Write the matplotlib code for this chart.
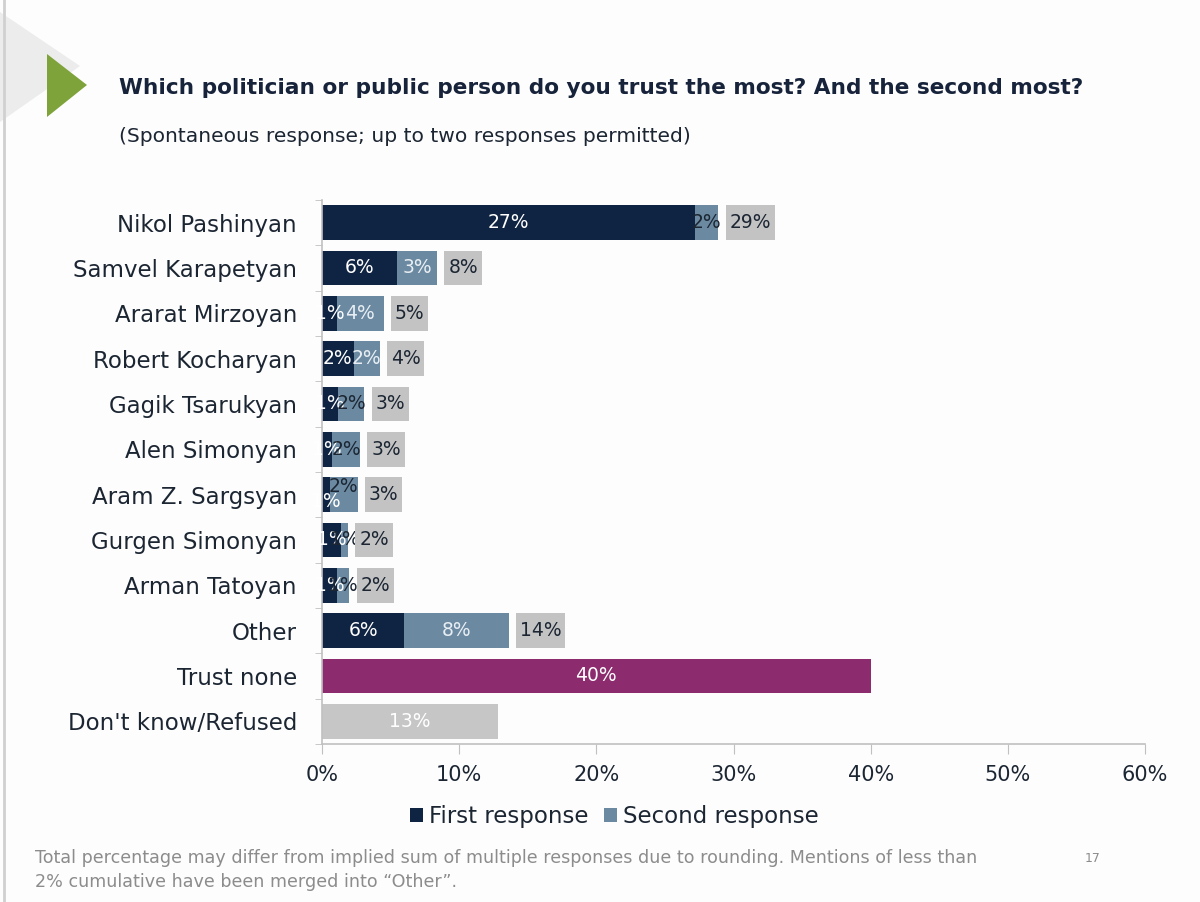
import numpy as np
import matplotlib
matplotlib.use("Agg")
import matplotlib.pyplot as plt
from matplotlib.patches import Polygon, Rectangle

# ----------------------------
# Data
# ----------------------------
politicians = [
    "Nikol Pashinyan", "Samvel Karapetyan", "Ararat Mirzoyan", "Robert Kocharyan",
    "Gagik Tsarukyan", "Alen Simonyan", "Aram Z. Sargsyan", "Gurgen Simonyan",
    "Arman Tatoyan", "Other",
]
first_resp = [27.2, 5.5, 1.1, 2.3, 1.2, 0.7, 0.6, 1.4, 1.1, 6.0]
second_resp = [1.7, 2.9, 3.4, 1.9, 1.9, 2.1, 2.0, 0.5, 0.9, 7.6]
first_labels = ["27%", "6%", "1%", "2%", "1%", "1%", "1%", "1%", "1%", "6%"]
second_labels = ["2%", "3%", "4%", "2%", "2%", "2%", "2%", "1%", "1%", "8%"]
total_labels = ["29%", "8%", "5%", "4%", "3%", "3%", "3%", "2%", "2%", "14%"]

single_cats = ["Trust none", "Don't know/Refused"]
single_vals = [40.0, 12.8]
single_labels = ["40%", "13%"]

x_ticks = [0, 10, 20, 30, 40, 50, 60]

# styling
NAVY = "#0f2443"
STEEL = "#6b8aa2"
BOX = "#c3c3c3"
PURPLE = "#8c2b6d"
DKGRAY = "#c6c6c6"
TXT = "#1c2633"
AXGRAY = "#c0c0c0"
# label colour for the second segment (small segments get dark text)
second_txt = [TXT, "#e8eef3", "#e8eef3", "#e8eef3", TXT, TXT, TXT, TXT, TXT, "#e8eef3"]
# Excel-style nudges for crowded labels (points)
first_dy = [0, 0, 0, 0, 0, 0, -5, 0, 0, 0]
second_dy = [0, 0, 0, 0, 0, 0, 6, 0, 0, 0]

plt.rcParams["font.family"] = ["DejaVu Sans"]

fig = plt.figure(figsize=(12, 9.02), dpi=100)
fig.patch.set_facecolor("#fdfdfd")
ax = fig.add_axes([0.2683, 0.1752, 0.6859, 0.6031])
ax.set_facecolor("#fdfdfd")

cats = politicians + single_cats
ypos = np.arange(len(cats))
ypol = ypos[:len(politicians)]
ysgl = ypos[len(politicians):]
h = 0.77

first_arr = np.array(first_resp)
second_arr = np.array(second_resp)
ax.barh(ypol, first_arr, height=h, color=NAVY, label="First response", zorder=2)
ax.barh(ypol, second_arr, left=first_arr, height=h, color=STEEL, label="Second response", zorder=2)
ax.barh(ysgl, single_vals, height=h, color=[PURPLE, DKGRAY], zorder=2)

ax.set_xlim(0, 60)
ax.set_ylim(len(cats) - 0.5, -0.5)

fs_val = 13.5
total_texts = []
for i, y in enumerate(ypol):
    ax.annotate(first_labels[i], (first_arr[i] / 2, y), xytext=(0, first_dy[i]),
                textcoords="offset points", ha="center", va="center",
                color="white", fontsize=fs_val, zorder=3)
    ax.annotate(second_labels[i], (first_arr[i] + second_arr[i] / 2, y), xytext=(0, second_dy[i]),
                textcoords="offset points", ha="center", va="center",
                color=second_txt[i], fontsize=fs_val, zorder=3)
    t = ax.annotate(total_labels[i], (first_arr[i] + second_arr[i], y), xytext=(8, 0),
                    textcoords="offset points", ha="left", va="center",
                    color=TXT, fontsize=fs_val, zorder=5)
    total_texts.append((t, y))
for v, y, lab in zip(single_vals, ysgl, single_labels):
    ax.text(v / 2, y, lab, ha="center", va="center", color="white", fontsize=fs_val, zorder=3)

ax.set_xticks(x_ticks)
ax.set_xticklabels([f"{t}%" for t in x_ticks], fontsize=15, color=TXT)
ax.set_yticks(ypos)
ax.set_yticklabels(cats, fontsize=16.5, color=TXT)
ax.set_yticks(np.arange(-0.5, len(cats), 1.0), minor=True)
ax.tick_params(axis="y", which="major", length=0, pad=18)
ax.tick_params(axis="y", which="minor", length=5, color=AXGRAY, direction="out")
ax.tick_params(axis="x", length=7, color=AXGRAY, pad=8)
for s in ("top", "right"):
    ax.spines[s].set_visible(False)
for s in ("left", "bottom"):
    ax.spines[s].set_color(AXGRAY)
    ax.spines[s].set_linewidth(1.2)

# gray boxes behind the totals: as tall as the bars, snug around the text
fig.canvas.draw()
renderer = fig.canvas.get_renderer()
inv = ax.transData.inverted()
padx = 4  # pixels
for t, y in total_texts:
    bb = t.get_window_extent(renderer)
    (x0, _), (x1, _) = inv.transform([(bb.x0 - padx, 0), (bb.x1 + padx, 0)])
    ax.add_patch(Rectangle((x0, y - h / 2), x1 - x0, h, fc=BOX, ec="none", zorder=4))

fig.legend(loc="center", bbox_to_anchor=(0.512, 0.095), ncol=2, frameon=False,
           fontsize=16.5, handlelength=0.55, handleheight=0.55, handletextpad=0.25,
           columnspacing=0.7, labelcolor=TXT)

# title block
fig.text(119 / 1200, 1 - 88 / 902, "Which politician or public person do you trust the most? And the second most?",
         fontsize=15.6, fontweight="bold", color="#17233a", va="center", ha="left")
fig.text(119 / 1200, 1 - 137 / 902, "(Spontaneous response; up to two responses permitted)",
         fontsize=14.6, color=TXT, va="center", ha="left")

# slide decorations
fig.patches.append(Polygon([(0, 1 - 12 / 902), (0, 1 - 122 / 902), (80 / 1200, 1 - 66 / 902)],
                           closed=True, transform=fig.transFigure, fc="#ececec", ec="none", zorder=0))
fig.patches.append(Polygon([(47 / 1200, 1 - 54 / 902), (47 / 1200, 1 - 117 / 902), (87 / 1200, 1 - 85 / 902)],
                           closed=True, transform=fig.transFigure, fc="#7ea33a", ec="none", zorder=1))
fig.add_artist(plt.Line2D([4 / 1200, 4 / 1200], [0, 1], transform=fig.transFigure, color="#d0d0d0", lw=2))

# footnote
fig.text(35 / 1200, 1 - 858 / 902,
         "Total percentage may differ from implied sum of multiple responses due to rounding. Mentions of less than",
         fontsize=12.6, color="#8c8c8c", va="center", ha="left")
fig.text(35 / 1200, 1 - 882 / 902, "2% cumulative have been merged into \u201cOther\u201d.",
         fontsize=12.6, color="#8c8c8c", va="center", ha="left")
fig.text(1093 / 1200, 1 - 858 / 902, "17", fontsize=9, color="#8c8c8c", va="center", ha="center")

fig.savefig("out.png", dpi=100, facecolor=fig.get_facecolor())
